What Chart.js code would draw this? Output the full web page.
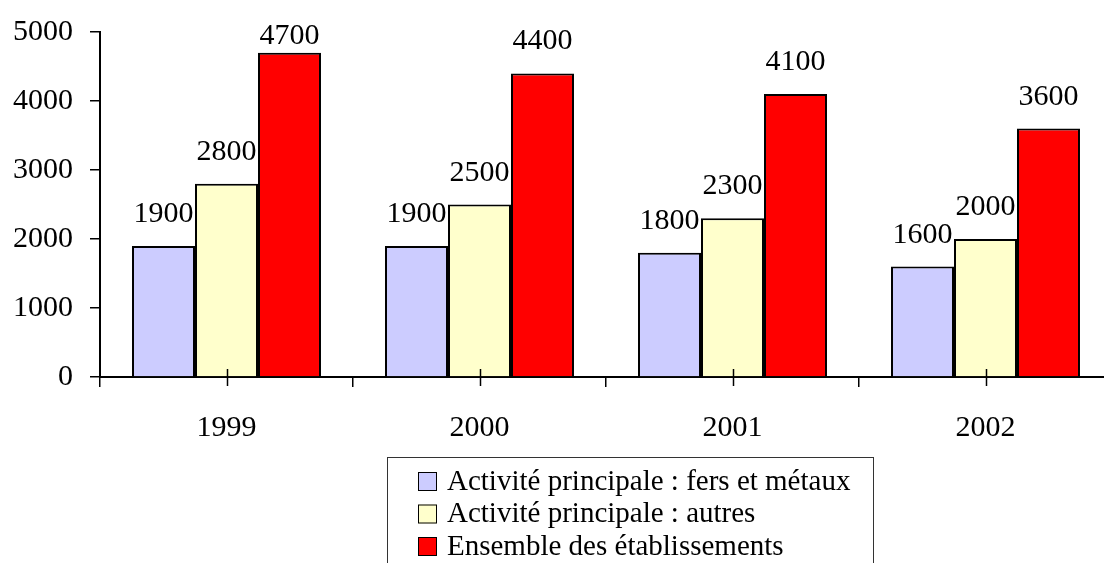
<!DOCTYPE html>
<html>
<head>
<meta charset="utf-8">
<script src="https://cdn.jsdelivr.net/npm/chart.js@4.4.1/dist/chart.umd.min.js"></script>
<style>
html,body{margin:0;padding:0;background:#fff;overflow:hidden;}
#wrap{position:relative;width:1120px;height:563px;}
</style>
</head>
<body>
<div id="wrap"><canvas id="myChart"></canvas></div>
<script>
const years = ['1999', '2000', '2001', '2002'];
const fersMetaux = [1900, 1900, 1800, 1600];
const autres = [2800, 2500, 2300, 2000];
const ensemble = [4700, 4400, 4100, 3600];
const seriesNames = ['Activité principale : fers et métaux', 'Activité principale : autres', 'Ensemble des établissements'];
const yTicks = [0, 1000, 2000, 3000, 4000, 5000];

const serif = "'Liberation Serif', 'Times New Roman', serif";

// value labels above each bar
const valueLabels = {
  id: 'valueLabels',
  afterDatasetsDraw(chart) {
    const ctx = chart.ctx;
    ctx.save();
    ctx.font = '30px ' + serif;
    ctx.fillStyle = '#000';
    ctx.textAlign = 'center';
    ctx.textBaseline = 'alphabetic';
    chart.data.datasets.forEach((ds, i) => {
      chart.getDatasetMeta(i).data.forEach((bar, j) => {
        let y = Math.max(bar.y - 24, chart.chartArea.top + 12);
        ctx.fillText(String(ds.data[j]), bar.x, y);
      });
    });
    ctx.restore();
  }
};

// small ticks crossing the axis at each category centre
const centerTicks = {
  id: 'centerTicks',
  afterDraw(chart) {
    const ctx = chart.ctx, xs = chart.scales.x, b = chart.chartArea.bottom;
    ctx.save();
    ctx.strokeStyle = '#000';
    ctx.lineWidth = 1.5;
    years.forEach((y, i) => {
      const px = Math.round(xs.getPixelForValue(i)) + 0.5;
      ctx.beginPath();
      ctx.moveTo(px, b - 8);
      ctx.lineTo(px, b + 9);
      ctx.stroke();
    });
    ctx.restore();
  }
};

// boxed legend under the chart
const legendBox = {
  id: 'legendBox',
  afterDraw(chart, args, opts) {
    const ctx = chart.ctx;
    ctx.save();
    ctx.strokeStyle = '#333';
    ctx.lineWidth = 1;
    ctx.strokeRect(opts.x + 0.5, opts.y + 0.5, opts.w, 200);
    ctx.font = '29px ' + serif;
    ctx.textBaseline = 'middle';
    chart.data.datasets.forEach((ds, i) => {
      const cy = opts.y + opts.firstRow + i * opts.rowH;
      ctx.fillStyle = ds.backgroundColor;
      ctx.fillRect(opts.x + 31, cy - 9, 19, 19);
      ctx.strokeStyle = '#000';
      ctx.strokeRect(opts.x + 31.5, cy - 8.5, 18, 18);
      ctx.fillStyle = '#000';
      ctx.fillText(ds.label, opts.x + 60, cy + 1);
    });
    ctx.restore();
  }
};

const ctx = document.getElementById('myChart').getContext('2d');

new Chart(ctx, {
  type: 'bar',
  data: {
    labels: years,
    datasets: [
      { label: seriesNames[0], data: fersMetaux, backgroundColor: '#CCCCFF' },
      { label: seriesNames[1], data: autres, backgroundColor: '#FFFFCC' },
      { label: seriesNames[2], data: ensemble, backgroundColor: '#FF0000' }
    ]
  },
  options: {
    responsive: true,
    maintainAspectRatio: false,
    animation: false,
    layout: { padding: { top: 18, right: 8, bottom: 106, left: 0 } },
    datasets: {
      bar: {
        categoryPercentage: 0.747,
        barPercentage: 1.0,
        borderColor: '#000',
        borderWidth: 2,
        borderSkipped: 'start'
      }
    },
    plugins: {
      legend: { display: false },
      tooltip: { enabled: false },
      legendBox: { x: 387, y: 457, w: 486, firstRow: 24, rowH: 32.5 }
    },
    scales: {
      x: {
        afterFit(scale) { scale.height = 80; },
        grid: { offset: true, drawOnChartArea: false, drawTicks: true, tickLength: 10, color: '#000', lineWidth: 1.5 },
        border: { color: '#000', width: 2 },
        ticks: { color: '#000', padding: 23, font: { family: serif, size: 30 }, maxRotation: 0 }
      },
      y: {
        min: 0,
        max: 5000,
        afterFit(scale) { scale.width = 100; },
        afterBuildTicks(scale) { scale.ticks = yTicks.map(v => ({ value: v })); },
        grid: { drawOnChartArea: false, drawTicks: true, tickLength: 10, color: '#000', lineWidth: 1.5 },
        border: { color: '#000', width: 2 },
        ticks: { color: '#000', padding: 17, font: { family: serif, size: 30, lineHeight: 1 }, callback: v => String(v) }
      }
    }
  },
  plugins: [valueLabels, centerTicks, legendBox]
});
</script>
</body>
</html>
